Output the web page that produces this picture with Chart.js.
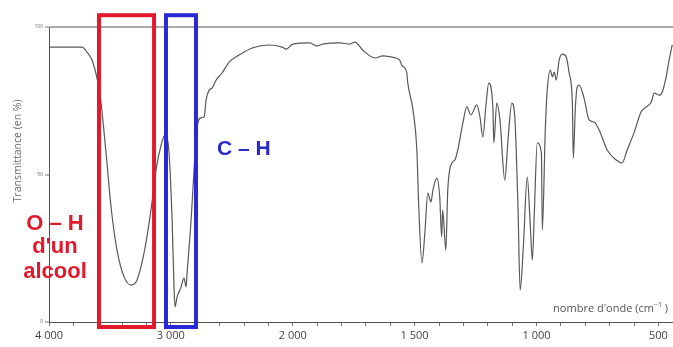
<!DOCTYPE html>
<html>
<head>
<meta charset="utf-8">
<script src="https://cdn.jsdelivr.net/npm/chart.js@4"></script>
<style>
  html, body { margin: 0; padding: 0; background: #fff; }
  #wrap { width: 673px; height: 347px; position: relative; }
</style>
</head>
<body>
<div id="wrap"><canvas id="irChart"></canvas></div>
<script>
// Spectre IR : nombre d'onde (cm-1) et transmittance (%)
const wavenumbers = [
    4000, 3729, 3688, 3647, 3606, 3573, 3532, 3491, 3442, 3384,
    3327, 3278, 3220, 3163, 3122, 3080, 3048, 3015, 2990, 2974,
    2966, 2949, 2916, 2908, 2892, 2875, 2867, 2834, 2810, 2785,
    2752, 2727, 2711, 2686, 2662, 2629, 2580, 2522, 2440, 2333,
    2194, 2087, 2054, 2000, 1930, 1901, 1877, 1807, 1766, 1745,
    1713, 1663, 1631, 1594, 1561, 1553, 1532, 1528, 1507, 1491,
    1483, 1470, 1458, 1446, 1433, 1425, 1409, 1397, 1389, 1385,
    1372, 1364, 1347, 1335, 1323, 1302, 1286, 1269, 1245, 1232,
    1220, 1208, 1196, 1179, 1175, 1163, 1150, 1130, 1117, 1101,
    1089, 1076, 1067, 1054, 1038, 1026, 1017, 1009, 997, 980,
    976, 964, 956, 943, 935, 927, 919, 907, 894, 878,
    866, 853, 849, 841, 833, 825, 805, 784, 764, 743,
    710, 673, 649, 628, 600, 571, 550, 529, 517, 497,
    484, 468, 456, 443
];
const transmittance = [
    93.2, 93.2, 91.5, 88.8, 82.7, 74.2, 57.3, 39.0, 24.4, 15.3,
    12.5, 14.2, 23.4, 38.0, 51.5, 60.0, 63.4, 57.3, 34.6, 11.9,
    5.1, 8.5, 11.9, 13.2, 14.9, 11.9, 16.6, 34.6, 51.5, 66.1,
    69.2, 69.5, 75.3, 78.6, 79.3, 82.0, 84.4, 88.1, 90.5, 92.9,
    93.9, 93.2, 92.5, 94.2, 94.6, 93.6, 94.2, 94.6, 94.2, 94.9,
    92.2, 89.5, 90.2, 89.8, 88.8, 87.1, 84.4, 81.0, 72.0, 58.3,
    39.0, 20.0, 30.2, 43.7, 40.7, 44.7, 48.8, 42.4, 28.8, 38.0,
    24.4, 44.7, 53.9, 54.9, 58.3, 67.5, 72.9, 70.2, 73.6, 69.5,
    62.7, 72.9, 81.0, 72.9, 60.7, 74.2, 68.5, 48.1, 61.7, 74.2,
    69.5, 39.0, 10.8, 25.4, 49.2, 33.6, 21.0, 36.9, 60.7, 57.3,
    31.2, 65.1, 78.6, 85.4, 83.1, 84.7, 82.0, 88.8, 90.8, 89.8,
    84.4, 74.2, 55.6, 71.9, 79.7, 80.3, 75.9, 68.5, 67.8, 65.1,
    58.3, 54.9, 53.9, 58.3, 64.1, 71.2, 72.9, 74.6, 77.6, 76.9,
    78.0, 83.1, 88.8, 93.9
];
const majorTicks = [4000, 3000, 2000, 1500, 1000, 500];
const yTickValues = [0, 50, 100];
const ohBand = [3590, 3138];   // O - H d'un alcool
const chBand = [3040, 2794];   // C - H
const ohLabel = ['O \u2013 H', 'd\'un', 'alcool'];
const chLabel = 'C \u2013 H';
const yTitle = 'Transmittance (en %)';
const xTitle = 'nombre d\'onde (cm';

// échelle doublée sous 2000 cm-1
function toAxis(w) { return w >= 2000 ? (4000 - w) / 2 : 1000 + (2000 - w); }
function fromAxis(u) { return u <= 1000 ? 4000 - 2 * u : 2000 - (u - 1000); }

const points = wavenumbers.map((w, i) => ({ x: toAxis(w), y: transmittance[i] }));

const annotations = {
    id: 'annotations',
    afterDraw(chart) {
        const { ctx, scales: { x, y } } = chart;
        const px = w => x.getPixelForValue(toAxis(w));
        const py = t => y.getPixelForValue(t);
        ctx.save();

        // cadres
        ctx.lineWidth = 4;
        ctx.strokeStyle = '#e2182b';
        ctx.strokeRect(px(ohBand[0]), py(104), px(ohBand[1]) - px(ohBand[0]), py(-1.7) - py(104));
        ctx.strokeStyle = '#2b28d6';
        ctx.strokeRect(px(chBand[0]), py(104), px(chBand[1]) - px(chBand[0]), py(-1.7) - py(104));

        // étiquettes
        ctx.font = 'bold 21px "Liberation Sans", Arial, sans-serif';
        ctx.fillStyle = '#2b28c8';
        ctx.textAlign = 'left';
        ctx.textBaseline = 'alphabetic';
        ctx.fillText(chLabel, px(2621), py(56.6));

        ctx.font = 'bold 22px "Liberation Sans", Arial, sans-serif';
        ctx.fillStyle = '#e2182b';
        ctx.textAlign = 'center';
        const ohY = [31.2, 23.4, 14.9];
        ohLabel.forEach((s, i) => ctx.fillText(s, px(3951), py(ohY[i])));

        // titre axe y
        ctx.save();
        ctx.translate(18, py(58));
        ctx.rotate(-Math.PI / 2);
        ctx.font = '10.5px "Open Sans", sans-serif';
        ctx.fillStyle = '#6a6a6a';
        ctx.textAlign = 'center';
        ctx.textBaseline = 'middle';
        ctx.fillText(yTitle, 0, 0);
        ctx.restore();

        // titre axe x avec exposant
        ctx.fillStyle = '#555';
        ctx.textAlign = 'left';
        ctx.font = '11px "Open Sans", sans-serif';
        const w1 = ctx.measureText(xTitle).width;
        ctx.font = '7px "Open Sans", sans-serif';
        const w2 = ctx.measureText('\u22121').width;
        ctx.font = '11px "Open Sans", sans-serif';
        const w3 = ctx.measureText(' )').width;
        let sx = 668 - (w1 + w2 + w3);
        const base = 312;
        ctx.fillText(xTitle, sx, base);
        ctx.font = '7px "Open Sans", sans-serif';
        ctx.fillText('\u22121', sx + w1, base - 5);
        ctx.font = '11px "Open Sans", sans-serif';
        ctx.fillText(' )', sx + w1 + w2, base);

        ctx.restore();
    }
};

const irChart = new Chart(document.getElementById('irChart'), {
    type: 'line',
    data: {
        datasets: [{
            data: points,
            borderColor: '#585858',
            borderWidth: 1.2,
            pointRadius: 0,
            cubicInterpolationMode: 'monotone',
            fill: false
        }]
    },
    options: {
        responsive: true,
        maintainAspectRatio: false,
        animation: false,
        devicePixelRatio: 1,
        layout: { padding: { top: 27, right: 0, bottom: 0, left: 0 } },
        plugins: { legend: { display: false }, tooltip: { enabled: false } },
        scales: {
            x: {
                type: 'linear',
                min: 0,
                max: toAxis(440),
                afterFit: s => { s.height = 25; },
                afterBuildTicks: s => {
                    const t = [];
                    for (let u = 0; u <= toAxis(500); u += 100) t.push({ value: u });
                    s.ticks = t;
                },
                border: { color: '#555', width: 1 },
                grid: { drawOnChartArea: false, tickLength: 4, tickColor: '#777' },
                ticks: {
                    autoSkip: false,
                    maxRotation: 0,
                    padding: 3,
                    color: '#444',
                    font: { size: 11, family: '"Open Sans", sans-serif' },
                    callback: v => {
                        const w = Math.round(fromAxis(v));
                        if (!majorTicks.includes(w)) return '';
                        return w >= 1000 ? Math.floor(w / 1000) + ' ' + String(w % 1000).padStart(3, '0') : String(w);
                    }
                }
            },
            y: {
                min: 0,
                max: 100,
                afterFit: s => { s.width = 49; },
                afterBuildTicks: s => { s.ticks = yTickValues.map(v => ({ value: v })); },
                border: { color: '#555', width: 1 },
                grid: {
                    color: c => (c.tick && c.tick.value === 100) ? '#a9a9a9' : 'rgba(0,0,0,0)',
                    lineWidth: 2,
                    tickWidth: 1,
                    tickColor: '#777',
                    tickLength: 4
                },
                ticks: {
                    padding: 2,
                    color: '#666',
                    font: { size: 5, family: '"Open Sans", sans-serif' }
                }
            }
        }
    },
    plugins: [annotations]
});
</script>
</body>
</html>
